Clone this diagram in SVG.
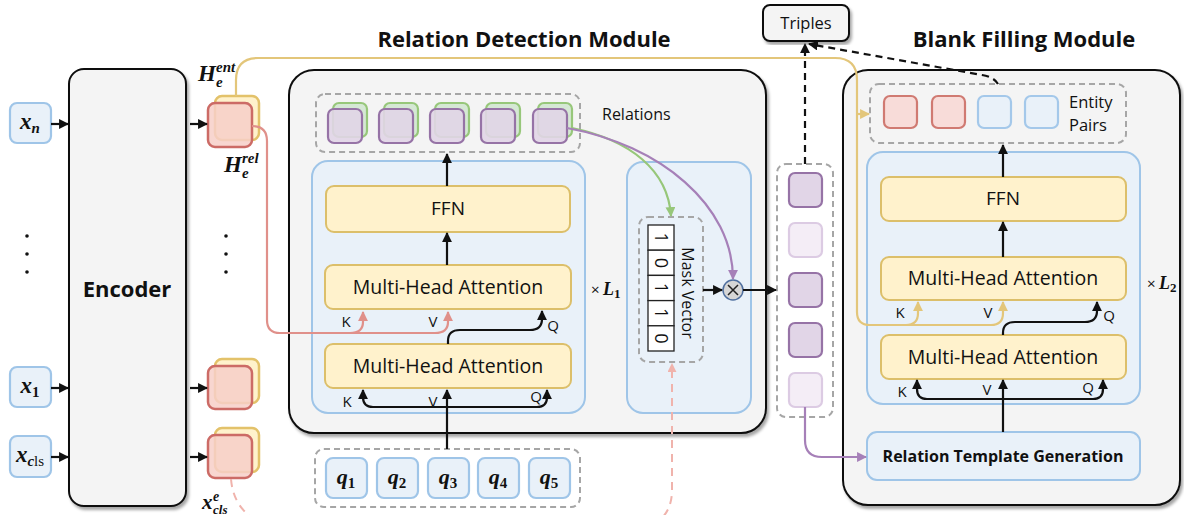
<svg xmlns="http://www.w3.org/2000/svg" width="1184" height="515" viewBox="0 0 1184 515">
<defs>
<style>
.mod{fill:#f4f4f4;stroke:#111;stroke-width:2}
.blk{fill:#e9f1f9;stroke:#9fc5e8;stroke-width:2}
.yel{fill:#fff2cc;stroke:#dcbf6a;stroke-width:2}
.inp{fill:#e9f1f9;stroke:#9fc5e8;stroke-width:2.2}
.hy{fill:#fff2cc;stroke:#e3c26a;stroke-width:2.5}
.hr{fill:#f7cfc8;fill-opacity:0.85;stroke:#cc6b66;stroke-width:2.5}
.pu{fill:#e1d5e7;stroke:#9673a6;stroke-width:2.2}
.pl{fill:#f4edf6;stroke:#dccbe3;stroke-width:2.2}
.gr{fill:#d5e8d4;stroke:#97c77a;stroke-width:2.2}
.rd{fill:#f8dcd9;stroke:#d07a72;stroke-width:2.2}
.bl{fill:#e9f1f9;stroke:#a4c8ea;stroke-width:2.2}
.dash{fill:none;stroke:#a6a6a6;stroke-width:2;stroke-dasharray:6 4}
.sans{font-family:"Open Sans","Liberation Sans",sans-serif;fill:#111}
.math{font-family:"Liberation Serif","DejaVu Serif",serif;font-weight:bold;font-style:italic;fill:#111}
.up{font-style:normal}
.ln{fill:none;stroke:#111;stroke-width:2.2}
</style>
<filter id="sh" x="-5%" y="-5%" width="115%" height="115%">
<feDropShadow dx="2" dy="3" stdDeviation="1.5" flood-color="#000" flood-opacity="0.35"/>
</filter>
<marker id="ab" viewBox="0 0 10 10" refX="9" refY="5" markerWidth="4.5" markerHeight="4.5" orient="auto"><path d="M0,0 L10,5 L0,10 z" fill="#111"/></marker>
<marker id="ap" viewBox="0 0 10 10" refX="9" refY="5" markerWidth="4.5" markerHeight="4.5" orient="auto"><path d="M0,0 L10,5 L0,10 z" fill="#e0908a"/></marker>
<marker id="apd" viewBox="0 0 10 10" refX="9" refY="5" markerWidth="4.5" markerHeight="4.5" orient="auto"><path d="M0,0 L10,5 L0,10 z" fill="#f0b3ac"/></marker>
<marker id="ay" viewBox="0 0 10 10" refX="9" refY="5" markerWidth="4.5" markerHeight="4.5" orient="auto"><path d="M0,0 L10,5 L0,10 z" fill="#e3c67a"/></marker>
<marker id="ag" viewBox="0 0 10 10" refX="9" refY="5" markerWidth="4.5" markerHeight="4.5" orient="auto"><path d="M0,0 L10,5 L0,10 z" fill="#97c77a"/></marker>
<marker id="av" viewBox="0 0 10 10" refX="9" refY="5" markerWidth="4.5" markerHeight="4.5" orient="auto"><path d="M0,0 L10,5 L0,10 z" fill="#a680b8"/></marker>
</defs>
<rect width="1184" height="515" fill="#fff"/>

<!-- titles -->
<text class="sans" x="524" y="47" text-anchor="middle" font-size="22" font-weight="bold">Relation Detection Module</text>
<text class="sans" x="1024" y="47" text-anchor="middle" font-size="22" font-weight="bold">Blank Filling Module</text>

<!-- inputs -->
<g id="input-xn"><rect class="inp" x="10" y="103" width="41" height="40" rx="7"/><text class="math" x="30" y="129" text-anchor="middle" font-size="23">x<tspan font-size="15" dy="4">n</tspan></text></g>
<g id="input-x1"><rect class="inp" x="10" y="367" width="41" height="40" rx="7"/><text class="math" x="30" y="393" text-anchor="middle" font-size="23">x<tspan class="up" font-size="15" dy="4">1</tspan></text></g>
<g id="input-xcls"><rect class="inp" x="10" y="436" width="41" height="41" rx="7"/><text class="math" x="30" y="462" text-anchor="middle" font-size="23">x<tspan font-size="15" dy="4">c</tspan><tspan class="up" font-size="15" font-weight="normal">ls</tspan></text></g>
<g id="dots-left" fill="#111"><circle cx="27" cy="236" r="1.8"/><circle cx="27" cy="254" r="1.8"/><circle cx="27" cy="272" r="1.8"/></g>

<!-- encoder -->
<g id="encoder"><rect class="mod" x="69" y="69" width="117" height="437" rx="15" filter="url(#sh)"/><text class="sans" x="127" y="297" text-anchor="middle" font-size="22" font-weight="bold">Encoder</text></g>

<!-- hidden states -->
<g id="h-n"><rect class="hy" x="215" y="96" width="44" height="44" rx="7"/><rect class="hr" x="208" y="103" width="44" height="44" rx="7"/></g>
<g id="h-1"><rect class="hy" x="215" y="359" width="44" height="44" rx="7"/><rect class="hr" x="208" y="366" width="44" height="43" rx="7"/></g>
<g id="h-cls"><rect class="hy" x="215" y="428" width="44" height="44" rx="7"/><rect class="hr" x="208" y="435" width="44" height="43" rx="7"/></g>
<g id="dots-mid" fill="#111"><circle cx="226" cy="236" r="1.8"/><circle cx="226" cy="254" r="1.8"/><circle cx="226" cy="272" r="1.8"/></g>
<g id="labels-h">
<text class="math" x="198" y="81" font-size="23">H</text><text class="math" x="216" y="72" font-size="15">ent</text><text class="math" x="216" y="87" font-size="15">e</text>
<text class="math" x="224" y="172" font-size="23">H</text><text class="math" x="242" y="163" font-size="15">rel</text><text class="math" x="242" y="178" font-size="15">e</text>
<text class="math" x="202" y="509" font-size="21">x</text><text class="math" x="213" y="501" font-size="14">e</text><text class="math" x="213" y="514" font-size="13">cls</text>
</g>

<!-- relation detection module -->
<g id="relation-detection-module"><rect class="mod" x="289" y="70" width="477" height="363" rx="25" filter="url(#sh)"/></g>
<g id="relations">
<rect class="dash" x="316" y="94" width="264" height="58" rx="9"/>
<rect class="gr" x="333" y="103" width="34" height="34" rx="6"/><rect class="pu" x="328" y="109" width="34" height="34" rx="6" fill-opacity="0.9"/>
<rect class="gr" x="384" y="103" width="34" height="34" rx="6"/><rect class="pu" x="379" y="109" width="34" height="34" rx="6" fill-opacity="0.9"/>
<rect class="gr" x="435" y="103" width="34" height="34" rx="6"/><rect class="pu" x="430" y="109" width="34" height="34" rx="6" fill-opacity="0.9"/>
<rect class="gr" x="486" y="103" width="34" height="34" rx="6"/><rect class="pu" x="481" y="109" width="34" height="34" rx="6" fill-opacity="0.9"/>
<rect class="gr" x="538" y="103" width="34" height="34" rx="6"/><rect class="pu" x="533" y="109" width="34" height="34" rx="6" fill-opacity="0.9"/>
<text class="sans" x="602" y="120" font-size="16">Relations</text>
</g>
<g id="decoder-block-1"><rect class="blk" x="312" y="161" width="273" height="252" rx="16"/></g>
<g id="ffn-1"><rect class="yel" x="326" y="186" width="244" height="46" rx="8"/><text class="sans" x="448" y="215" text-anchor="middle" font-size="19">FFN</text></g>
<g id="mha-1a"><rect class="yel" x="325" y="265" width="246" height="44" rx="8"/><text class="sans" x="448" y="294" text-anchor="middle" font-size="19.5">Multi-Head Attention</text></g>
<g id="mha-1b"><rect class="yel" x="325" y="344" width="246" height="44" rx="8"/><text class="sans" x="448" y="373" text-anchor="middle" font-size="19.5">Multi-Head Attention</text></g>
<g id="kvq-1" class="sans" font-size="15">
<text x="346" y="327" text-anchor="middle">K</text><text x="433" y="327" text-anchor="middle">V</text><text x="553" y="331" text-anchor="middle">Q</text>
<text x="347" y="407" text-anchor="middle">K</text><text x="433" y="407" text-anchor="middle">V</text><text x="536" y="402" text-anchor="middle">Q</text>
</g>
<g id="times-l1"><text class="sans" x="591" y="295" font-size="15">×</text><text class="math" x="603" y="295" font-size="18">L<tspan class="up" font-size="13" dy="3">1</tspan></text></g>

<g id="mask-panel"><rect class="blk" x="627" y="162" width="124" height="251" rx="16"/></g>
<g id="mask-vector">
<rect class="dash" x="639" y="217" width="64" height="145" rx="9"/>
<g fill="#fff" stroke="#222" stroke-width="1.3">
<rect x="648" y="225" width="26" height="25.2"/><rect x="648" y="250.2" width="26" height="25.2"/><rect x="648" y="275.4" width="26" height="25.2"/><rect x="648" y="300.6" width="26" height="25.2"/><rect x="648" y="325.8" width="26" height="25.2"/>
</g>
<g class="sans" font-size="18" text-anchor="middle">
<text transform="translate(655,237.6) rotate(90)">1</text>
<text transform="translate(655,262.8) rotate(90)">0</text>
<text transform="translate(655,288) rotate(90)">1</text>
<text transform="translate(655,313.2) rotate(90)">1</text>
<text transform="translate(655,338.4) rotate(90)">0</text>
</g>
<text class="sans" font-size="16" text-anchor="middle" transform="translate(682,293) rotate(90)">Mask Vector</text>
</g>
<g id="multiply"><circle cx="733" cy="290" r="10" fill="#d6d6d6" stroke="#4f6f9f" stroke-width="1.5"/><path d="M728,285 L738,295 M738,285 L728,295" stroke="#222" stroke-width="1.5"/></g>

<g id="queries">
<rect class="dash" x="315" y="449" width="265" height="58" rx="9"/>
<rect class="inp" x="326" y="458" width="41" height="40" rx="7"/><text class="math" x="346" y="484" text-anchor="middle" font-size="22">q<tspan class="up" font-size="15" dy="4">1</tspan></text>
<rect class="inp" x="377" y="458" width="41" height="40" rx="7"/><text class="math" x="397" y="484" text-anchor="middle" font-size="22">q<tspan class="up" font-size="15" dy="4">2</tspan></text>
<rect class="inp" x="428" y="458" width="41" height="40" rx="7"/><text class="math" x="448" y="484" text-anchor="middle" font-size="22">q<tspan class="up" font-size="15" dy="4">3</tspan></text>
<rect class="inp" x="478" y="458" width="41" height="40" rx="7"/><text class="math" x="498" y="484" text-anchor="middle" font-size="22">q<tspan class="up" font-size="15" dy="4">4</tspan></text>
<rect class="inp" x="529" y="458" width="41" height="40" rx="7"/><text class="math" x="549" y="484" text-anchor="middle" font-size="22">q<tspan class="up" font-size="15" dy="4">5</tspan></text>
</g>

<!-- selected relations column -->
<g id="selected-relations">
<rect class="dash" x="777" y="164" width="56" height="253" rx="9"/>
<rect class="pu" x="789" y="173" width="33" height="34" rx="6"/>
<rect class="pl" x="789" y="223" width="33" height="34" rx="6"/>
<rect class="pu" x="789" y="273" width="33" height="34" rx="6"/>
<rect class="pu" x="789" y="323" width="33" height="34" rx="6"/>
<rect class="pl" x="789" y="373" width="33" height="34" rx="6"/>
</g>

<g id="triples"><rect class="mod" x="763" y="5" width="86" height="36" rx="7" filter="url(#sh)"/><text class="sans" x="806" y="29" text-anchor="middle" font-size="16.5">Triples</text></g>

<!-- blank filling module -->
<g id="blank-filling-module"><rect class="mod" x="843" y="70" width="337" height="435" rx="25" filter="url(#sh)"/></g>
<g id="entity-pairs">
<rect class="dash" x="870" y="84" width="256" height="59" rx="9"/>
<rect class="rd" x="884" y="96" width="33" height="32" rx="6"/>
<rect class="rd" x="932" y="96" width="33" height="32" rx="6"/>
<rect class="bl" x="978" y="96" width="33" height="32" rx="6"/>
<rect class="bl" x="1025" y="96" width="33" height="32" rx="6"/>
<text class="sans" x="1069" y="108" font-size="16.5">Entity</text>
<text class="sans" x="1069" y="131" font-size="16.5">Pairs</text>
</g>
<g id="decoder-block-2"><rect class="blk" x="867" y="152" width="273" height="252" rx="16"/></g>
<g id="ffn-2"><rect class="yel" x="881" y="177" width="245" height="44" rx="8"/><text class="sans" x="1003" y="205" text-anchor="middle" font-size="19">FFN</text></g>
<g id="mha-2a"><rect class="yel" x="881" y="257" width="245" height="43" rx="8"/><text class="sans" x="1003" y="285" text-anchor="middle" font-size="19.5">Multi-Head Attention</text></g>
<g id="mha-2b"><rect class="yel" x="881" y="335" width="245" height="44" rx="8"/><text class="sans" x="1003" y="364" text-anchor="middle" font-size="19.5">Multi-Head Attention</text></g>
<g id="kvq-2" class="sans" font-size="15">
<text x="900" y="318" text-anchor="middle">K</text><text x="988" y="318" text-anchor="middle">V</text><text x="1109" y="321" text-anchor="middle">Q</text>
<text x="902" y="397" text-anchor="middle">K</text><text x="987" y="395" text-anchor="middle">V</text><text x="1088" y="393" text-anchor="middle">Q</text>
</g>
<g id="times-l2"><text class="sans" x="1147" y="289" font-size="15">×</text><text class="math" x="1159" y="289" font-size="18">L<tspan class="up" font-size="13" dy="3">2</tspan></text></g>
<g id="relation-template-generation"><rect class="blk" x="867" y="432" width="273" height="48" rx="10"/><text class="sans" x="1003" y="462" text-anchor="middle" font-size="16" font-weight="bold">Relation Template Generation</text></g>

<!-- connectors -->
<g id="connectors">
<g class="ln" marker-end="url(#ab)">
<path d="M51,124 L68,124"/><path d="M51,388 L68,388"/><path d="M51,457 L68,457"/>
<path d="M190,124 L207,124"/><path d="M190,388 L207,388"/><path d="M190,457 L207,457"/>
<path d="M447,186 L447,154"/>
<path d="M447,265 L447,233"/>
<path d="M447,449 L447,390"/>
<path d="M447,407 L373,407 Q363,407 363,397 L363,390"/>
<path d="M447,407 L537,407 Q547,407 547,397 L547,390"/>
<path d="M448,344 L448,341 Q448,330 460,330 L530,330 Q542,330 542,319 L542,311"/>
<path d="M703,290 L722,290"/>
<path d="M743,290 L776,290"/>
<path d="M1003,177 L1003,145"/>
<path d="M1003,257 L1003,222"/>
<path d="M1003,432 L1003,380"/>
<path d="M1003,399 L927,399 Q917,399 917,389 L917,380"/>
<path d="M1003,399 L1093,399 Q1103,399 1103,389 L1103,380"/>
<path d="M1003,335 L1003,333 Q1003,322 1015,322 L1085,322 Q1097,322 1097,311 L1097,302"/>
</g>
<g class="ln" stroke-dasharray="7 5" marker-end="url(#ab)">
<path d="M805,164 L805,44"/>
<path d="M998,84 Q994,77 982,75 L809,44"/>
</g>
<g fill="none" stroke="#e0908a" stroke-width="2.2" marker-end="url(#ap)">
<path d="M252,126 Q267,126 267,141 L267,320 Q267,333 280,333 L350,333 Q363,333 363,322 L363,312"/>
<path d="M350,333 L435,333 Q448,333 448,322 L448,312"/>
</g>
<path d="M231,479 C233,505 250,528 292,528 L632,528 C662,528 672,510 672,490 L672,364" fill="none" stroke="#f0b3ac" stroke-width="2" stroke-dasharray="8 6" marker-end="url(#apd)"/>
<g fill="none" stroke="#e3c67a" stroke-width="2.2" marker-end="url(#ay)">
<path d="M236,96 L236,80 Q236,58 258,58 L835,58 Q857,58 857,80 L857,312 Q857,325 870,325 L906,325 Q918,325 918,313 L918,302"/>
<path d="M906,325 L991,325 Q1003,325 1003,313 L1003,302"/>
<path d="M857,114 L869,114"/>
</g>
<path d="M572,128 C630,140 668,170 671,216" fill="none" stroke="#97c77a" stroke-width="2.2" marker-end="url(#ag)"/>
<path d="M567,128 C660,145 733,205 733,279" fill="none" stroke="#a680b8" stroke-width="2.2" marker-end="url(#av)"/>
<path d="M805,407 L805,440 Q805,457 822,457 L866,457" fill="none" stroke="#a680b8" stroke-width="2.2" marker-end="url(#av)"/>
</g>
</svg>
